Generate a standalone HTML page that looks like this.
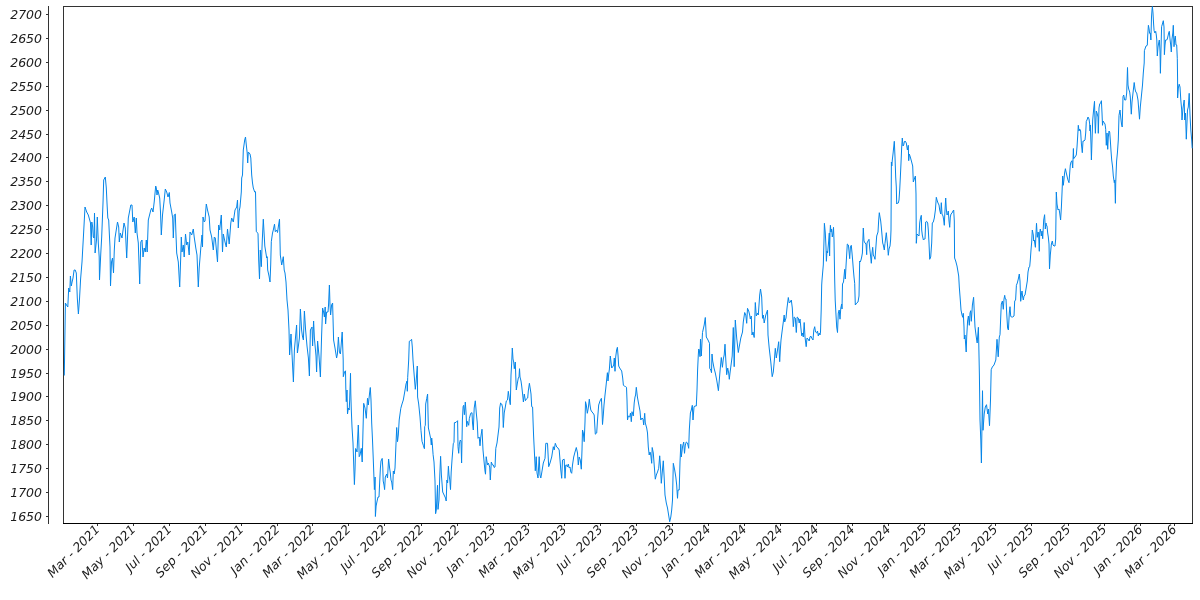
<!DOCTYPE html>
<html><head><meta charset="utf-8"><style>
html,body{margin:0;padding:0;background:#fff;width:1200px;height:600px;overflow:hidden}
svg{display:block}
.yl{font-family:"DejaVu Sans", sans-serif;font-style:italic;font-size:12.5px;fill:#1c1c1c}
.xl{font-family:"DejaVu Sans", sans-serif;font-style:italic;font-size:12.5px;fill:#1c1c1c}
</style></head><body>
<svg width="1200" height="600" viewBox="0 0 1200 600">
<line x1="48.5" y1="6" x2="48.5" y2="524" stroke="#333" stroke-width="1"/>
<line x1="46" y1="516.5" x2="48" y2="516.5" stroke="#333" stroke-width="1"/>
<text x="42" y="521.0" text-anchor="end" class="yl">1650</text>
<line x1="46" y1="492.5" x2="48" y2="492.5" stroke="#333" stroke-width="1"/>
<text x="42" y="497.0" text-anchor="end" class="yl">1700</text>
<line x1="46" y1="468.5" x2="48" y2="468.5" stroke="#333" stroke-width="1"/>
<text x="42" y="473.0" text-anchor="end" class="yl">1750</text>
<line x1="46" y1="444.5" x2="48" y2="444.5" stroke="#333" stroke-width="1"/>
<text x="42" y="449.0" text-anchor="end" class="yl">1800</text>
<line x1="46" y1="420.5" x2="48" y2="420.5" stroke="#333" stroke-width="1"/>
<text x="42" y="425.0" text-anchor="end" class="yl">1850</text>
<line x1="46" y1="396.5" x2="48" y2="396.5" stroke="#333" stroke-width="1"/>
<text x="42" y="401.0" text-anchor="end" class="yl">1900</text>
<line x1="46" y1="373.5" x2="48" y2="373.5" stroke="#333" stroke-width="1"/>
<text x="42" y="378.0" text-anchor="end" class="yl">1950</text>
<line x1="46" y1="349.5" x2="48" y2="349.5" stroke="#333" stroke-width="1"/>
<text x="42" y="354.0" text-anchor="end" class="yl">2000</text>
<line x1="46" y1="325.5" x2="48" y2="325.5" stroke="#333" stroke-width="1"/>
<text x="42" y="330.0" text-anchor="end" class="yl">2050</text>
<line x1="46" y1="301.5" x2="48" y2="301.5" stroke="#333" stroke-width="1"/>
<text x="42" y="306.0" text-anchor="end" class="yl">2100</text>
<line x1="46" y1="277.5" x2="48" y2="277.5" stroke="#333" stroke-width="1"/>
<text x="42" y="282.0" text-anchor="end" class="yl">2150</text>
<line x1="46" y1="253.5" x2="48" y2="253.5" stroke="#333" stroke-width="1"/>
<text x="42" y="258.0" text-anchor="end" class="yl">2200</text>
<line x1="46" y1="229.5" x2="48" y2="229.5" stroke="#333" stroke-width="1"/>
<text x="42" y="234.0" text-anchor="end" class="yl">2250</text>
<line x1="46" y1="205.5" x2="48" y2="205.5" stroke="#333" stroke-width="1"/>
<text x="42" y="210.0" text-anchor="end" class="yl">2300</text>
<line x1="46" y1="181.5" x2="48" y2="181.5" stroke="#333" stroke-width="1"/>
<text x="42" y="186.0" text-anchor="end" class="yl">2350</text>
<line x1="46" y1="157.5" x2="48" y2="157.5" stroke="#333" stroke-width="1"/>
<text x="42" y="162.0" text-anchor="end" class="yl">2400</text>
<line x1="46" y1="134.5" x2="48" y2="134.5" stroke="#333" stroke-width="1"/>
<text x="42" y="139.0" text-anchor="end" class="yl">2450</text>
<line x1="46" y1="110.5" x2="48" y2="110.5" stroke="#333" stroke-width="1"/>
<text x="42" y="115.0" text-anchor="end" class="yl">2500</text>
<line x1="46" y1="86.5" x2="48" y2="86.5" stroke="#333" stroke-width="1"/>
<text x="42" y="91.0" text-anchor="end" class="yl">2550</text>
<line x1="46" y1="62.5" x2="48" y2="62.5" stroke="#333" stroke-width="1"/>
<text x="42" y="67.0" text-anchor="end" class="yl">2600</text>
<line x1="46" y1="38.5" x2="48" y2="38.5" stroke="#333" stroke-width="1"/>
<text x="42" y="43.0" text-anchor="end" class="yl">2650</text>
<line x1="46" y1="14.5" x2="48" y2="14.5" stroke="#333" stroke-width="1"/>
<text x="42" y="19.0" text-anchor="end" class="yl">2700</text>
<rect x="63.5" y="6.5" width="1129" height="517" fill="none" stroke="#333" stroke-width="1"/>
<line x1="63" y1="523.5" x2="1193" y2="523.5" stroke="#000" stroke-width="1"/>
<line x1="97.5" y1="524" x2="97.5" y2="526" stroke="#333" stroke-width="1"/>
<text transform="translate(100.4,530.2) rotate(-45)" text-anchor="end" class="xl">Mar - 2021</text>
<line x1="133.5" y1="524" x2="133.5" y2="526" stroke="#333" stroke-width="1"/>
<text transform="translate(136.4,530.2) rotate(-45)" text-anchor="end" class="xl">May - 2021</text>
<line x1="169.5" y1="524" x2="169.5" y2="526" stroke="#333" stroke-width="1"/>
<text transform="translate(172.4,530.2) rotate(-45)" text-anchor="end" class="xl">Jul - 2021</text>
<line x1="205.5" y1="524" x2="205.5" y2="526" stroke="#333" stroke-width="1"/>
<text transform="translate(208.4,530.2) rotate(-45)" text-anchor="end" class="xl">Sep - 2021</text>
<line x1="241.5" y1="524" x2="241.5" y2="526" stroke="#333" stroke-width="1"/>
<text transform="translate(244.4,530.2) rotate(-45)" text-anchor="end" class="xl">Nov - 2021</text>
<line x1="277.5" y1="524" x2="277.5" y2="526" stroke="#333" stroke-width="1"/>
<text transform="translate(280.4,530.2) rotate(-45)" text-anchor="end" class="xl">Jan - 2022</text>
<line x1="312.5" y1="524" x2="312.5" y2="526" stroke="#333" stroke-width="1"/>
<text transform="translate(315.4,530.2) rotate(-45)" text-anchor="end" class="xl">Mar - 2022</text>
<line x1="348.5" y1="524" x2="348.5" y2="526" stroke="#333" stroke-width="1"/>
<text transform="translate(351.4,530.2) rotate(-45)" text-anchor="end" class="xl">May - 2022</text>
<line x1="384.5" y1="524" x2="384.5" y2="526" stroke="#333" stroke-width="1"/>
<text transform="translate(387.4,530.2) rotate(-45)" text-anchor="end" class="xl">Jul - 2022</text>
<line x1="421.5" y1="524" x2="421.5" y2="526" stroke="#333" stroke-width="1"/>
<text transform="translate(424.4,530.2) rotate(-45)" text-anchor="end" class="xl">Sep - 2022</text>
<line x1="457.5" y1="524" x2="457.5" y2="526" stroke="#333" stroke-width="1"/>
<text transform="translate(460.4,530.2) rotate(-45)" text-anchor="end" class="xl">Nov - 2022</text>
<line x1="493.5" y1="524" x2="493.5" y2="526" stroke="#333" stroke-width="1"/>
<text transform="translate(496.4,530.2) rotate(-45)" text-anchor="end" class="xl">Jan - 2023</text>
<line x1="528.5" y1="524" x2="528.5" y2="526" stroke="#333" stroke-width="1"/>
<text transform="translate(531.4,530.2) rotate(-45)" text-anchor="end" class="xl">Mar - 2023</text>
<line x1="564.5" y1="524" x2="564.5" y2="526" stroke="#333" stroke-width="1"/>
<text transform="translate(567.4,530.2) rotate(-45)" text-anchor="end" class="xl">May - 2023</text>
<line x1="600.5" y1="524" x2="600.5" y2="526" stroke="#333" stroke-width="1"/>
<text transform="translate(603.4,530.2) rotate(-45)" text-anchor="end" class="xl">Jul - 2023</text>
<line x1="636.5" y1="524" x2="636.5" y2="526" stroke="#333" stroke-width="1"/>
<text transform="translate(639.4,530.2) rotate(-45)" text-anchor="end" class="xl">Sep - 2023</text>
<line x1="672.5" y1="524" x2="672.5" y2="526" stroke="#333" stroke-width="1"/>
<text transform="translate(675.4,530.2) rotate(-45)" text-anchor="end" class="xl">Nov - 2023</text>
<line x1="708.5" y1="524" x2="708.5" y2="526" stroke="#333" stroke-width="1"/>
<text transform="translate(711.4,530.2) rotate(-45)" text-anchor="end" class="xl">Jan - 2024</text>
<line x1="744.5" y1="524" x2="744.5" y2="526" stroke="#333" stroke-width="1"/>
<text transform="translate(747.4,530.2) rotate(-45)" text-anchor="end" class="xl">Mar - 2024</text>
<line x1="780.5" y1="524" x2="780.5" y2="526" stroke="#333" stroke-width="1"/>
<text transform="translate(783.4,530.2) rotate(-45)" text-anchor="end" class="xl">May - 2024</text>
<line x1="816.5" y1="524" x2="816.5" y2="526" stroke="#333" stroke-width="1"/>
<text transform="translate(819.4,530.2) rotate(-45)" text-anchor="end" class="xl">Jul - 2024</text>
<line x1="852.5" y1="524" x2="852.5" y2="526" stroke="#333" stroke-width="1"/>
<text transform="translate(855.4,530.2) rotate(-45)" text-anchor="end" class="xl">Sep - 2024</text>
<line x1="888.5" y1="524" x2="888.5" y2="526" stroke="#333" stroke-width="1"/>
<text transform="translate(891.4,530.2) rotate(-45)" text-anchor="end" class="xl">Nov - 2024</text>
<line x1="924.5" y1="524" x2="924.5" y2="526" stroke="#333" stroke-width="1"/>
<text transform="translate(927.4,530.2) rotate(-45)" text-anchor="end" class="xl">Jan - 2025</text>
<line x1="959.5" y1="524" x2="959.5" y2="526" stroke="#333" stroke-width="1"/>
<text transform="translate(962.4,530.2) rotate(-45)" text-anchor="end" class="xl">Mar - 2025</text>
<line x1="995.5" y1="524" x2="995.5" y2="526" stroke="#333" stroke-width="1"/>
<text transform="translate(998.4,530.2) rotate(-45)" text-anchor="end" class="xl">May - 2025</text>
<line x1="1031.5" y1="524" x2="1031.5" y2="526" stroke="#333" stroke-width="1"/>
<text transform="translate(1034.4,530.2) rotate(-45)" text-anchor="end" class="xl">Jul - 2025</text>
<line x1="1068.5" y1="524" x2="1068.5" y2="526" stroke="#333" stroke-width="1"/>
<text transform="translate(1071.4,530.2) rotate(-45)" text-anchor="end" class="xl">Sep - 2025</text>
<line x1="1104.5" y1="524" x2="1104.5" y2="526" stroke="#333" stroke-width="1"/>
<text transform="translate(1107.4,530.2) rotate(-45)" text-anchor="end" class="xl">Nov - 2025</text>
<line x1="1140.5" y1="524" x2="1140.5" y2="526" stroke="#333" stroke-width="1"/>
<text transform="translate(1143.4,530.2) rotate(-45)" text-anchor="end" class="xl">Jan - 2026</text>
<line x1="1174.5" y1="524" x2="1174.5" y2="526" stroke="#333" stroke-width="1"/>
<text transform="translate(1177.4,530.2) rotate(-45)" text-anchor="end" class="xl">Mar - 2026</text>
<polyline points="64.3,375.5 65.4,303.0 66.5,305.0 67.8,307.0 68.7,288.0 69.8,292.0 70.4,276.0 71.3,286.0 72.1,282.0 73.0,278.0 74.1,270.0 75.2,270.0 76.3,273.0 77.3,298.0 78.4,314.0 79.5,299.0 80.6,279.0 82.0,262.0 83.5,235.0 85.0,207.0 86.7,212.0 88.3,215.0 89.7,220.0 90.5,223.0 91.2,245.0 91.8,222.0 92.7,227.0 93.3,237.0 94.0,238.0 94.5,213.0 95.1,253.0 96.5,240.0 97.3,217.0 98.3,243.0 99.2,257.0 99.5,280.0 100.8,253.0 101.7,237.0 103.0,203.0 103.7,180.0 105.3,177.0 106.3,188.0 107.0,203.0 107.8,218.0 108.7,220.0 109.3,233.0 110.0,247.0 110.5,286.0 111.5,262.0 112.5,258.0 113.5,273.0 114.3,250.0 115.0,238.0 117.5,222.0 118.7,227.0 119.3,242.0 120.3,233.0 122.0,238.0 124.0,223.0 125.3,228.0 126.7,258.0 128.3,218.0 130.8,205.0 132.0,205.0 132.8,222.0 134.2,217.0 135.3,233.0 136.3,218.0 137.0,233.0 138.3,243.0 139.7,284.0 140.8,242.0 142.0,240.0 143.0,257.0 144.2,248.0 145.3,252.0 146.3,240.0 147.2,252.0 148.3,220.0 150.8,210.0 151.7,208.0 153.0,212.0 154.2,202.0 155.7,186.0 156.3,188.0 157.0,195.0 157.7,190.0 158.3,192.0 159.7,198.0 160.5,212.0 161.3,235.0 162.5,215.0 164.2,200.0 165.3,189.0 166.7,192.0 168.0,197.0 169.3,192.5 170.0,203.0 171.7,212.0 172.7,218.0 173.3,238.0 174.2,215.0 175.3,214.0 175.8,230.0 176.7,253.0 178.3,262.0 179.7,287.0 180.8,255.0 181.3,237.0 182.0,252.0 183.3,245.0 184.2,257.0 185.5,234.0 186.7,245.0 187.8,242.0 189.2,255.0 190.0,232.0 191.7,235.0 193.3,229.0 194.2,237.0 195.8,248.0 197.0,255.0 198.3,287.0 199.2,268.0 200.8,248.0 202.0,235.0 202.5,247.0 203.0,217.0 204.2,222.0 205.0,221.0 205.8,210.0 206.3,204.0 207.5,210.0 209.2,217.0 210.0,230.0 211.7,237.0 213.3,250.0 214.3,237.0 215.3,238.0 217.5,262.0 218.7,225.0 219.7,230.0 221.3,215.0 222.5,252.0 223.3,234.0 225.0,242.0 226.3,247.0 227.5,229.0 229.2,244.0 230.8,223.0 231.7,218.0 233.3,222.0 235.0,210.0 236.7,207.0 237.5,200.0 238.3,228.0 239.2,211.0 240.0,207.0 241.3,192.0 241.7,178.0 242.5,175.0 243.3,150.0 244.7,140.0 245.5,137.0 246.3,145.0 247.2,153.0 247.7,163.0 248.3,152.0 250.0,154.0 250.8,158.0 251.7,175.0 252.5,183.0 253.3,188.0 254.7,192.0 255.5,191.7 256.3,231.7 258.0,233.3 258.7,260.0 259.5,279.0 260.3,250.0 261.3,266.7 262.3,240.0 263.3,219.2 264.8,246.0 266.7,258.0 267.2,256.7 267.7,270.0 269.0,276.0 270.0,282.0 270.7,265.0 271.3,241.7 272.5,233.0 273.3,230.0 274.5,224.2 275.3,231.7 276.7,230.0 277.5,232.5 278.3,227.0 279.5,219.2 280.3,255.0 281.7,265.0 283.3,256.7 284.2,270.0 285.0,273.0 286.0,282.0 287.0,300.0 288.0,310.0 289.0,330.0 289.6,355.0 291.0,334.0 292.0,354.0 293.4,382.0 294.4,350.0 296.6,325.0 297.4,353.0 298.4,346.0 299.4,338.0 300.4,309.0 301.6,330.0 302.4,336.0 303.4,340.0 304.4,311.0 305.6,330.0 307.0,346.0 308.4,358.0 309.4,376.0 310.4,330.0 312.0,327.0 312.6,346.0 313.6,321.0 314.4,338.0 316.0,356.0 316.6,372.0 317.6,341.0 319.0,356.0 320.4,377.0 321.6,336.0 322.6,308.0 323.6,312.0 324.4,317.0 325.2,307.0 325.6,324.0 326.6,312.0 328.0,312.0 328.6,304.0 329.4,285.0 330.0,305.0 330.6,315.0 331.6,305.0 332.6,303.0 333.6,340.0 335.0,348.0 336.6,358.0 337.4,354.0 338.4,337.0 339.4,352.0 340.4,354.0 341.0,347.0 342.2,332.0 343.2,360.0 343.3,376.7 344.5,372.0 345.5,370.8 345.8,388.0 346.3,401.7 347.0,390.0 347.5,414.0 348.3,408.0 349.2,410.0 349.7,400.0 350.5,373.3 350.8,393.0 351.3,410.0 352.0,427.0 353.0,443.0 354.4,484.6 355.0,470.0 355.6,448.5 356.4,450.0 357.0,452.0 358.3,425.0 358.8,440.0 359.2,456.7 360.0,455.0 361.3,448.3 362.2,462.0 363.0,430.0 363.7,403.3 365.0,408.0 366.3,418.3 367.5,398.3 368.3,405.0 369.6,393.0 370.3,387.5 371.0,400.0 371.7,423.0 372.5,440.0 373.3,460.0 374.4,489.6 375.1,477.0 375.4,516.5 376.1,506.0 377.1,501.0 378.0,497.0 379.0,497.0 379.7,482.0 380.4,468.0 381.0,461.0 382.2,458.4 382.8,468.0 383.2,481.0 384.0,485.0 384.6,489.6 385.3,477.0 386.7,474.0 387.5,478.0 388.6,459.0 389.6,468.0 390.3,473.0 391.0,480.0 391.7,482.0 392.7,489.6 393.3,471.0 394.2,474.0 395.0,468.0 395.7,451.0 396.7,427.5 397.5,441.7 398.3,435.0 399.2,420.0 400.8,408.3 402.0,404.0 403.3,400.0 404.7,392.0 406.0,384.0 407.0,381.0 407.3,391.3 407.7,377.3 408.7,360.0 409.3,341.3 410.4,340.7 411.6,339.3 412.3,347.0 413.0,360.0 414.0,373.0 414.9,384.0 415.3,389.3 416.0,383.0 417.3,366.0 417.6,397.0 418.7,404.0 420.0,417.0 421.0,430.7 422.0,441.3 423.3,445.3 424.4,448.7 424.7,426.7 425.3,425.3 425.7,404.0 426.7,398.7 427.6,394.0 428.0,413.0 428.4,428.0 429.3,432.0 430.7,438.7 431.3,445.0 431.7,438.0 432.3,444.0 433.1,454.7 434.0,462.0 435.0,481.0 435.6,513.7 436.3,510.0 437.5,485.3 438.0,509.4 439.0,500.0 439.8,475.0 440.6,456.3 441.4,475.0 442.7,492.0 444.1,495.0 445.5,498.0 446.2,501.0 446.9,480.0 447.6,483.0 448.4,466.2 449.0,475.0 449.8,480.0 450.5,489.6 451.2,472.0 452.0,460.0 453.3,443.3 454.0,442.7 454.4,422.7 456.0,422.4 457.6,420.7 458.0,446.7 458.7,453.3 459.3,444.0 460.3,440.0 461.0,441.3 461.6,463.0 462.4,420.0 463.1,406.7 463.7,405.3 464.4,414.7 465.3,402.0 466.0,412.0 466.7,426.7 467.3,421.3 468.7,425.3 469.3,418.7 470.7,413.3 472.0,412.7 472.5,423.0 473.3,430.0 474.2,408.0 475.3,400.8 476.3,413.0 477.2,422.0 478.0,438.3 479.2,437.0 480.0,445.8 480.8,437.0 482.0,429.2 483.0,450.0 484.2,463.0 485.0,471.0 485.5,474.2 486.2,456.7 487.5,465.0 488.3,463.0 489.7,467.0 490.3,480.0 491.3,462.0 492.5,465.0 493.3,465.0 494.2,467.5 495.0,467.0 495.8,448.3 497.0,443.0 498.0,435.0 499.0,427.0 499.7,408.0 500.6,403.0 501.7,404.0 502.7,408.0 503.3,427.5 504.2,413.0 505.3,407.0 506.3,401.0 507.5,400.0 508.3,391.3 509.7,401.0 510.3,404.7 511.0,375.0 511.7,363.0 512.3,348.0 513.0,359.0 513.7,362.0 514.3,368.7 515.3,362.0 515.8,377.0 516.3,390.0 517.4,383.0 518.3,378.0 519.0,377.0 519.5,368.7 520.0,377.0 521.0,381.0 521.7,386.0 522.6,394.0 523.4,402.0 524.3,394.0 525.4,400.7 526.3,399.0 527.7,398.0 528.3,391.0 529.4,383.3 530.3,389.0 531.0,394.0 531.7,406.7 532.6,407.0 533.0,420.0 533.6,436.0 534.2,448.0 535.3,470.8 536.2,456.7 537.0,473.0 538.0,478.0 539.2,456.7 540.0,475.0 540.8,478.0 541.7,473.0 543.3,463.0 545.0,458.3 545.8,443.3 547.5,443.3 548.7,466.7 550.0,463.0 551.7,457.0 552.0,455.0 553.3,446.7 554.2,450.0 555.3,443.3 556.7,447.0 558.0,448.0 559.2,450.0 560.0,460.0 560.8,470.0 561.7,478.3 562.5,460.0 564.2,459.2 565.0,478.3 565.8,465.0 566.7,465.0 567.5,467.0 568.3,464.0 569.2,468.0 570.0,467.0 570.8,472.0 571.7,473.3 572.5,465.0 573.7,457.0 575.0,452.0 576.3,447.5 577.5,453.0 578.3,465.0 579.2,457.0 580.3,460.0 581.3,469.2 582.0,450.0 582.5,430.0 583.3,433.0 584.2,441.7 585.0,422.0 585.5,401.7 586.3,405.0 587.3,413.3 588.3,408.0 589.3,399.2 590.0,405.0 590.8,410.0 592.0,412.0 593.0,413.0 594.2,415.0 595.3,434.2 596.7,433.0 597.5,420.0 598.7,405.0 600.0,401.0 601.4,398.3 602.0,410.0 602.5,424.5 603.3,415.0 604.0,405.0 605.0,395.0 605.8,388.0 607.4,372.7 608.0,381.0 608.6,375.0 609.4,369.0 610.3,356.0 611.0,362.0 611.7,368.0 612.6,367.0 613.7,365.0 614.3,358.0 615.0,371.3 615.7,357.0 616.6,350.0 617.4,347.3 618.0,355.0 618.7,366.0 619.7,368.0 621.0,370.0 621.7,371.0 622.7,378.0 623.4,385.3 624.3,386.0 625.7,386.7 626.5,387.3 627.0,400.0 627.5,420.0 628.3,416.0 629.7,417.0 630.5,413.0 631.3,421.7 632.0,411.7 633.3,416.0 634.2,403.0 635.0,397.0 635.6,395.0 636.3,387.3 637.4,397.0 638.3,402.0 640.0,411.0 640.8,420.0 642.0,418.0 643.0,419.0 643.7,425.0 644.7,413.3 645.3,423.0 646.7,428.0 647.5,433.0 648.3,447.0 649.2,455.0 650.0,452.0 650.8,455.0 651.7,463.3 652.2,447.5 653.3,453.0 654.2,465.0 655.3,479.2 656.3,475.0 657.5,472.0 658.7,468.3 659.7,455.8 660.5,467.0 661.3,483.3 662.2,473.0 663.3,460.8 664.2,478.0 665.0,495.0 666.3,503.0 667.5,508.0 668.3,513.0 669.7,521.7 670.8,517.0 671.7,510.0 672.5,500.0 673.3,463.3 674.7,470.0 675.8,477.0 676.7,485.0 677.5,498.3 678.0,490.0 679.2,490.0 680.0,462.0 680.8,444.2 681.3,457.0 682.5,447.0 683.7,442.0 684.5,453.3 685.3,445.0 686.3,442.0 687.5,443.0 688.7,448.3 689.3,430.0 690.4,413.0 691.3,410.0 692.3,405.3 693.0,420.0 694.0,407.0 694.7,406.0 696.3,406.0 697.0,390.0 697.6,370.0 698.3,355.0 698.7,349.0 699.3,350.0 700.0,356.7 700.5,339.2 701.3,356.0 702.5,332.5 704.2,325.0 705.3,317.5 706.3,337.0 708.0,340.0 709.5,343.3 709.7,368.3 710.8,370.0 711.5,372.7 712.0,354.0 712.7,361.0 714.0,368.0 715.3,373.0 716.7,380.0 717.5,385.0 718.4,390.7 719.3,380.0 720.3,368.0 721.3,357.5 722.4,367.3 723.3,359.0 724.2,355.0 725.0,344.2 725.8,360.0 726.7,374.7 727.7,368.0 728.7,373.0 729.3,379.3 730.0,373.0 731.3,363.0 732.2,356.0 733.3,327.5 734.2,366.7 735.3,320.0 736.7,338.0 738.3,352.5 739.2,347.0 740.8,338.0 742.5,332.0 743.3,322.0 744.7,312.5 745.8,315.0 746.7,323.3 747.5,308.3 748.7,311.0 749.7,315.0 750.3,319.0 751.3,316.0 752.0,335.0 753.0,332.0 754.2,337.5 755.3,302.5 756.3,316.0 757.5,313.0 758.3,315.0 759.7,295.0 760.5,289.0 761.7,297.0 762.5,318.3 763.3,315.0 764.2,323.0 765.8,315.0 767.5,310.0 768.0,335.0 769.2,348.0 770.8,362.0 772.2,376.7 773.3,372.0 774.2,362.0 775.3,348.3 776.3,358.0 777.5,350.0 778.7,341.7 779.7,361.7 780.3,350.0 781.0,340.0 782.0,332.0 783.3,322.0 784.2,315.0 784.7,322.0 785.3,320.0 786.0,318.0 787.0,308.0 788.3,297.5 789.3,303.0 790.3,302.0 791.3,300.0 792.3,308.0 793.3,326.7 794.2,317.0 795.3,318.0 796.3,332.5 797.2,317.0 798.3,318.0 799.2,323.0 800.0,319.0 800.8,327.0 801.7,335.8 802.5,333.0 803.3,337.0 804.2,322.5 805.0,337.0 806.2,346.7 807.0,338.0 808.0,339.0 809.2,341.0 810.0,337.0 810.8,336.0 811.7,338.0 813.0,340.0 813.8,330.0 814.7,326.7 815.5,332.0 816.7,333.0 817.5,331.0 818.3,336.0 819.2,333.0 820.0,335.0 820.5,332.0 821.2,310.0 821.7,285.0 822.0,280.0 822.7,272.0 823.3,265.0 824.0,240.0 824.4,223.3 825.3,233.0 826.0,247.0 826.4,261.3 827.0,251.0 827.6,253.0 828.7,241.0 829.3,233.0 829.6,256.0 830.0,233.0 830.4,225.3 831.0,232.0 831.6,229.0 832.3,237.0 833.0,233.0 833.5,227.3 834.0,240.0 834.7,280.0 835.2,300.0 836.0,315.0 836.7,327.0 837.5,332.5 838.3,313.0 839.2,310.0 840.0,319.2 840.8,308.0 841.7,304.0 842.0,309.0 842.5,284.0 843.5,282.0 844.7,269.3 845.3,279.0 846.0,266.0 847.3,244.0 848.4,245.0 849.0,251.0 849.7,258.7 850.4,247.0 851.3,245.3 852.0,253.0 852.7,261.0 853.3,269.0 854.0,277.0 854.7,283.3 855.3,305.0 856.7,303.0 858.0,302.0 859.0,296.0 859.7,261.0 860.2,262.0 861.0,260.0 861.7,257.0 862.4,253.0 863.3,228.0 864.0,241.0 865.0,243.0 866.0,244.0 866.7,254.7 867.0,243.0 868.0,241.0 869.0,239.3 869.7,248.0 870.7,257.0 871.3,263.3 872.0,253.0 872.7,247.3 873.3,255.0 874.3,257.0 875.0,259.3 875.6,251.0 876.7,236.0 878.0,232.0 878.7,220.0 879.3,212.7 880.0,217.0 880.7,221.0 881.3,227.0 882.0,235.0 882.7,243.0 883.3,245.0 884.3,250.0 885.0,243.3 886.3,232.7 887.0,240.0 887.7,247.0 888.3,255.3 889.0,249.0 890.0,246.0 890.6,240.0 891.0,230.0 891.4,162.0 891.8,166.0 892.3,160.0 893.0,154.0 894.3,141.3 895.0,157.0 895.7,177.0 896.3,187.0 896.7,204.0 897.5,203.0 898.3,203.0 899.0,200.0 899.7,190.0 900.3,178.0 901.0,163.0 901.7,147.0 902.3,138.0 903.0,146.0 903.7,145.0 904.3,142.0 905.0,141.0 905.7,142.0 906.3,143.0 907.4,150.0 908.3,145.3 908.7,160.7 909.3,154.0 910.3,157.0 911.4,161.0 912.7,166.0 913.3,182.0 914.3,179.0 915.4,176.0 916.0,194.0 916.3,243.3 917.0,234.0 918.0,235.0 919.0,236.0 919.7,223.0 920.3,219.0 921.3,215.3 921.7,230.0 922.3,235.0 923.4,240.0 924.3,239.0 925.0,239.0 925.7,222.0 926.6,221.3 927.7,223.0 928.3,230.0 929.0,243.0 929.7,259.3 930.7,257.0 931.7,243.0 932.3,223.0 933.3,222.0 934.3,218.0 935.4,210.0 936.3,197.3 937.0,200.0 938.0,203.0 939.0,205.0 939.7,210.0 940.7,214.0 941.3,202.7 942.0,214.0 943.0,216.0 943.7,220.0 944.3,225.3 944.8,214.0 945.7,198.0 946.3,209.0 947.0,215.0 947.7,214.0 948.3,211.0 949.0,221.0 949.7,227.3 950.3,217.0 951.0,214.0 952.0,213.0 953.0,211.0 953.7,210.0 954.3,221.0 954.6,258.0 955.7,261.0 957.0,266.0 957.7,270.0 957.7,270.0 958.7,276.0 959.3,287.0 960.3,300.0 961.0,310.0 962.0,315.0 962.7,317.3 963.3,313.3 964.0,327.0 964.3,339.0 965.0,335.0 966.2,352.0 966.7,337.0 967.6,321.0 968.4,316.0 969.3,325.3 970.0,313.0 970.7,310.7 971.3,321.3 972.4,305.0 973.6,297.3 974.3,313.0 975.0,327.0 976.0,335.0 976.7,340.0 977.2,343.0 978.4,327.3 978.7,340.0 979.4,375.0 980.0,420.0 980.8,440.0 981.4,463.0 981.8,437.0 982.5,390.7 983.0,430.3 984.2,414.0 985.3,407.0 986.5,404.7 987.7,414.0 988.4,409.0 989.5,425.7 990.5,400.0 991.2,369.7 992.3,367.0 994.0,365.0 995.8,360.0 997.0,339.3 998.2,356.8 999.3,337.0 1000.0,334.7 1000.7,318.0 1001.3,304.0 1002.4,301.0 1003.3,309.3 1004.0,299.0 1004.7,295.3 1005.3,299.0 1006.0,299.0 1006.7,313.0 1007.6,328.0 1008.4,330.0 1009.3,313.0 1010.0,306.7 1010.7,316.0 1011.3,317.0 1012.7,317.0 1014.0,316.0 1014.7,301.0 1015.6,300.0 1016.4,285.3 1017.3,283.0 1018.3,279.0 1019.3,274.0 1020.0,281.0 1020.7,301.3 1021.3,295.0 1022.0,291.0 1022.7,297.0 1023.3,300.0 1024.0,296.0 1025.0,295.0 1026.0,289.0 1027.3,281.0 1028.0,272.0 1029.0,267.0 1029.7,266.7 1030.3,260.0 1031.0,250.0 1031.7,242.0 1032.3,230.0 1033.3,235.0 1033.7,241.0 1034.3,240.0 1035.4,247.3 1036.0,233.0 1036.5,223.3 1037.3,237.3 1038.0,232.0 1038.6,233.0 1039.3,251.3 1039.7,233.0 1040.3,229.0 1041.0,233.0 1041.3,236.0 1042.0,231.0 1042.7,238.7 1043.7,220.0 1044.6,214.7 1045.3,229.0 1046.0,223.0 1046.3,225.0 1047.0,226.0 1047.7,233.0 1048.3,237.0 1049.0,244.0 1049.5,269.0 1050.3,255.0 1051.4,244.0 1052.3,241.0 1053.0,245.0 1054.0,246.0 1055.0,246.0 1055.7,239.0 1056.3,192.0 1057.0,204.0 1058.0,210.0 1059.0,209.0 1059.7,213.0 1060.6,220.0 1061.4,207.0 1062.0,193.0 1062.7,176.0 1063.3,185.3 1064.0,179.0 1064.6,173.0 1065.4,168.7 1066.3,173.0 1067.7,179.0 1068.3,181.0 1069.0,182.7 1069.7,173.0 1070.3,165.0 1071.0,162.0 1072.0,160.7 1072.7,168.0 1073.0,160.0 1073.4,148.5 1073.7,158.7 1075.0,157.0 1076.3,155.0 1077.0,147.0 1077.7,136.0 1078.3,125.3 1079.0,131.0 1079.7,129.0 1080.6,131.0 1081.4,144.0 1082.3,152.7 1083.0,141.0 1084.0,141.0 1085.0,140.0 1085.7,133.0 1086.3,121.3 1087.0,120.0 1088.0,117.0 1089.0,119.0 1089.7,124.0 1090.0,131.0 1090.3,125.0 1091.0,144.0 1091.4,160.0 1092.7,120.0 1093.7,109.0 1094.5,101.3 1095.0,123.0 1095.4,133.3 1096.3,111.0 1097.0,113.0 1098.0,117.0 1098.3,133.3 1099.0,108.0 1099.7,104.0 1100.6,103.0 1101.4,100.7 1102.0,113.0 1102.5,125.3 1103.0,121.0 1104.3,123.0 1105.0,124.0 1105.7,129.3 1106.3,145.3 1107.0,133.0 1107.7,149.3 1108.3,137.0 1109.0,131.0 1109.7,132.0 1110.3,140.0 1111.0,151.0 1111.7,160.0 1112.6,167.0 1113.3,176.0 1114.3,182.7 1114.8,180.0 1115.4,203.3 1115.7,184.0 1116.1,173.0 1116.6,161.0 1117.4,153.0 1118.3,140.0 1119.0,115.3 1120.0,110.0 1120.8,118.0 1121.5,124.0 1122.2,127.0 1123.0,96.7 1123.7,95.0 1124.7,100.0 1125.8,100.0 1126.7,93.0 1127.5,67.5 1128.0,85.0 1128.7,89.0 1129.7,92.0 1130.3,97.0 1131.3,114.2 1132.0,102.0 1133.0,93.0 1134.2,82.5 1135.0,89.0 1135.8,92.0 1136.7,93.0 1138.0,100.0 1139.2,115.0 1139.5,119.2 1140.3,107.0 1141.3,97.0 1142.5,85.0 1143.3,73.0 1144.2,63.0 1144.4,50.7 1145.3,48.0 1146.0,46.0 1147.3,45.3 1147.7,36.0 1148.4,25.3 1149.1,29.0 1149.6,33.3 1150.3,33.0 1150.9,40.0 1151.5,17.0 1152.0,10.0 1152.4,6.5 1153.0,13.0 1153.6,24.0 1154.1,30.7 1154.9,33.0 1155.7,31.3 1156.3,35.0 1156.8,40.0 1157.3,56.0 1158.0,47.0 1158.7,43.0 1159.3,40.0 1160.0,51.0 1160.4,73.3 1160.9,53.0 1161.6,26.7 1162.4,24.0 1163.3,20.7 1164.0,27.0 1164.4,54.7 1165.0,45.0 1165.6,40.0 1166.7,40.0 1167.3,39.0 1168.0,36.0 1168.7,33.0 1169.3,31.3 1170.0,39.0 1170.7,45.0 1171.3,52.0 1172.0,39.0 1172.8,33.0 1173.3,25.3 1174.0,46.7 1174.7,39.0 1175.3,36.0 1176.0,45.0 1176.7,45.0 1177.3,58.7 1177.6,80.0 1177.6,98.0 1178.3,88.0 1179.2,84.2 1180.0,87.0 1180.8,100.0 1181.7,110.0 1182.0,120.0 1183.0,108.0 1184.2,100.0 1184.7,120.0 1185.5,113.0 1186.3,139.2 1187.5,110.0 1188.3,107.0 1189.2,93.3 1190.0,115.0 1190.8,130.0 1191.7,140.0 1192.2,148.3" fill="none" stroke="#0585e8" stroke-width="1" stroke-linejoin="round"/>
</svg>
</body></html>
